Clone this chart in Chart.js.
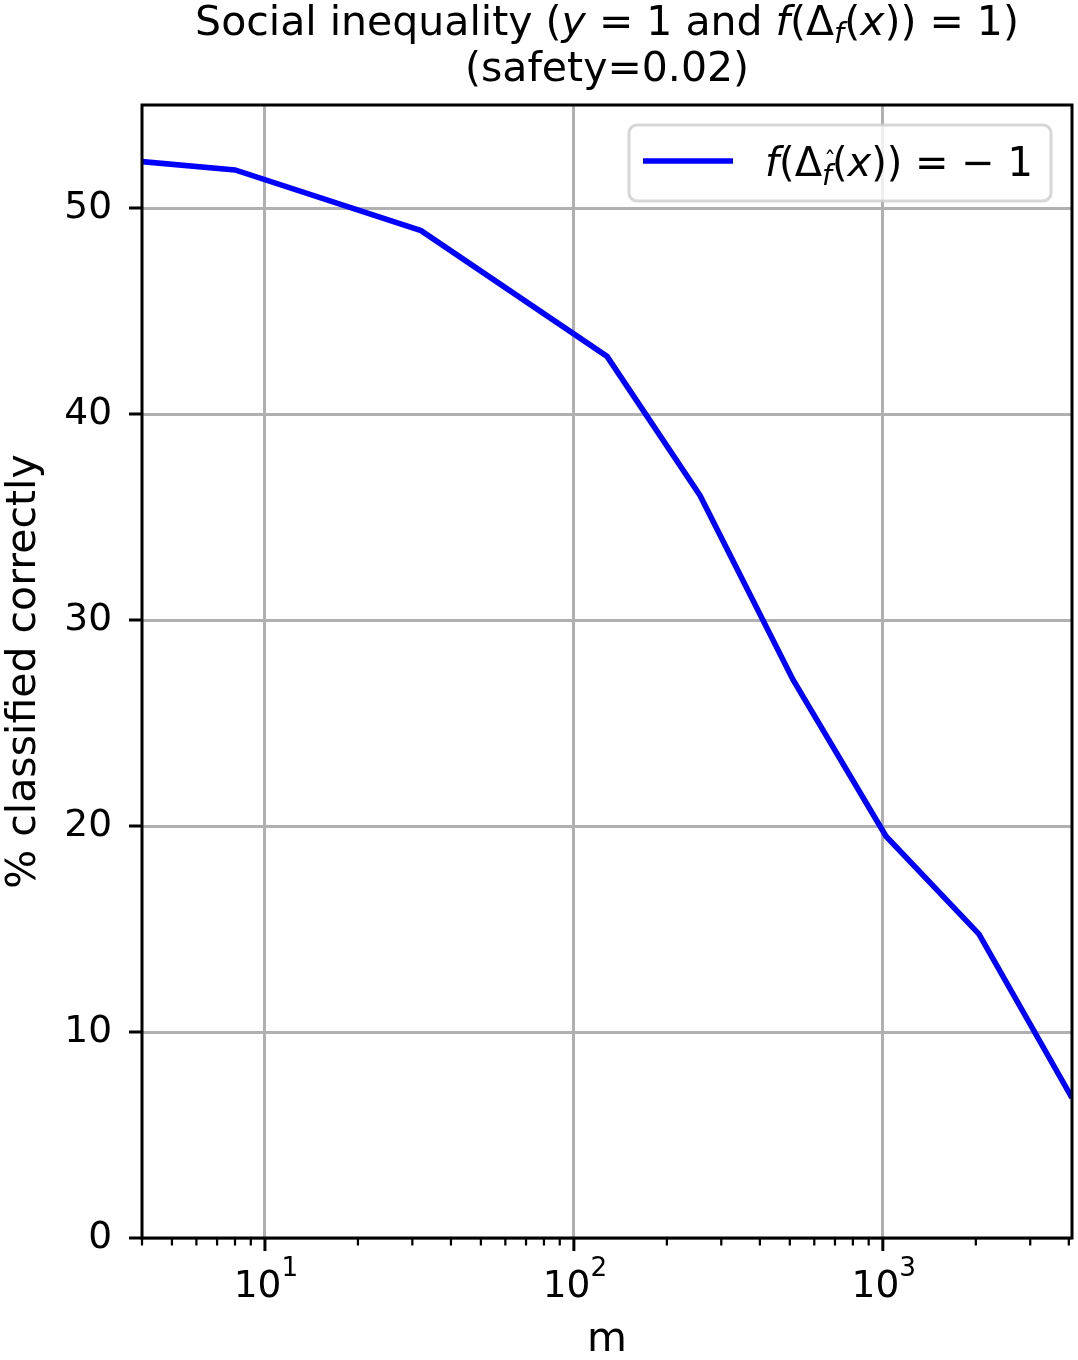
<!DOCTYPE html>
<html><head><meta charset="utf-8">
<script src="https://cdn.jsdelivr.net/npm/chart.js@4/dist/chart.umd.min.js"></script>
<style>html,body{margin:0;padding:0;background:#fff}canvas{display:block}</style>
</head><body>
<canvas id="c" width="1078" height="1360"></canvas>
<script>
// ---- data ----
const mValues = [4, 8, 32, 128, 256, 512, 1024, 2048, 4096];
const pctCorrect = [52.25, 51.85, 48.9, 42.8, 36.05, 27.1, 19.5, 14.75, 6.8];
const yTicks = [0, 10, 20, 30, 40, 50];
const xMajorTicks = [10, 100, 1000];
const xTickBase = '10';
const xTickExponents = ['1', '2', '3'];
const xMinorTicks = [4,5,6,7,8,9,20,30,40,50,60,70,80,90,200,300,400,500,600,700,800,900,2000,3000,4000];
const titleLine2 = '(safety=0.02)';
const yAxisLabel = '% classified correctly';
const xAxisLabel = 'm';

const FAM = '"DejaVu Sans"';
const FS = 37.5;   // tick labels
const LS = 41;     // axis labels, title
const LG = 40;     // legend

function FSz(s) { return s.size * (s.scale || 1); }
function setF(ctx, s) { ctx.font = (s.it ? 'oblique ' : '') + FSz(s) + 'px ' + FAM; }
function drawRich(ctx, segs, x, y, align) {
  let w = 0;
  const widths = segs.map(s => { setF(ctx, s); const mw = ctx.measureText(s.t).width; w += mw; return mw; });
  let cx = align === 'center' ? x - w / 2 : x;
  ctx.textAlign = 'left';
  segs.forEach((s, i) => {
    setF(ctx, s);
    ctx.fillText(s.t, cx, y + (s.dy || 0));
    if (s.hat) {
      ctx.font = (FSz(s) * 0.85) + 'px ' + FAM;
      ctx.fillText('\u02C6', cx + widths[i] * 0.2, y + (s.dy || 0) - FSz(s) * 0.6);
    }
    cx += widths[i];
  });
}

const decor = {
  id: 'decor',
  afterDatasetsDraw(chart) {
    const ctx = chart.ctx;
    const a = chart.chartArea;
    const xs = chart.scales.x, ys = chart.scales.y;
    ctx.save();
    ctx.textBaseline = 'alphabetic';
    // legend box
    const bx = a.right - 21, by = a.top + 20;
    const lx = 629, ly = by, lw = bx - lx, lh = 76, r = 8;
    ctx.fillStyle = 'rgba(255,255,255,0.8)';
    ctx.strokeStyle = 'rgba(204,204,204,0.8)';
    ctx.lineWidth = 3;
    ctx.beginPath();
    ctx.roundRect(lx, ly, lw, lh, r);
    ctx.fill(); ctx.stroke();
    ctx.strokeStyle = '#0000ff';
    ctx.lineWidth = 5.6;
    ctx.beginPath(); ctx.moveTo(643, ly + 36); ctx.lineTo(733, ly + 36); ctx.stroke();
    ctx.fillStyle = '#000';
    drawRich(ctx, [
      {t:'f', it:true, size:LG},
      {t:'(\u0394', size:LG},
      {t:'f', it:true, size:LG, scale:0.7, dy:9, hat:true},
      {t:'(', size:LG},
      {t:'x', it:true, size:LG},
      {t:')) = \u2212 1', size:LG}
    ], 765, ly + 51, 'left');

    // spines
    ctx.strokeStyle = '#000';
    ctx.lineWidth = 3;
    ctx.strokeRect(a.left, a.top, a.right - a.left, a.bottom - a.top);
    yTicks.forEach(v => {
      const p = ys.getPixelForValue(v);
      ctx.beginPath(); ctx.moveTo(a.left - 13, p); ctx.lineTo(a.left, p); ctx.stroke();
    });
    xMajorTicks.forEach(v => {
      const p = xs.getPixelForValue(v);
      ctx.beginPath(); ctx.moveTo(p, a.bottom); ctx.lineTo(p, a.bottom + 13); ctx.stroke();
    });
    ctx.lineWidth = 2.25;
    xMinorTicks.forEach(v => {
      const p = xs.getPixelForValue(v);
      ctx.beginPath(); ctx.moveTo(p, a.bottom); ctx.lineTo(p, a.bottom + 7.5); ctx.stroke();
    });

    // x tick labels (10^k)
    ctx.fillStyle = '#000';
    xMajorTicks.forEach((v, i) => {
      const p = xs.getPixelForValue(v);
      drawRich(ctx, [
        {t: xTickBase, size: FS},
        {t: xTickExponents[i], size: FS, scale: 0.7, dy: -21}
      ], p + 1, a.bottom + 59, 'center');
    });

    // titles
    const cx = (a.left + a.right) / 2;
    drawRich(ctx, [
      {t:'Social inequality (', size:LS},
      {t:'y', it:true, size:LS},
      {t:' = 1 and ', size:LS},
      {t:'f', it:true, size:LS},
      {t:'(\u0394', size:LS},
      {t:'f', it:true, size:LS, scale:0.7, dy:8},
      {t:'(', size:LS},
      {t:'x', it:true, size:LS},
      {t:')) = 1)', size:LS}
    ], cx, 35, 'center');
    ctx.font = LS + 'px ' + FAM;
    ctx.textAlign = 'center';
    ctx.fillText(titleLine2, cx, 81);

    // axis labels
    ctx.fillText(xAxisLabel, cx, 1351);
    ctx.save();
    ctx.translate(35, (a.top + a.bottom) / 2);
    ctx.rotate(-Math.PI / 2);
    ctx.fillText(yAxisLabel, 0, 0);
    ctx.restore();
    ctx.restore();
  }
};

new Chart(document.getElementById('c'), {
  type: 'line',
  data: {
    datasets: [{
      data: mValues.map((m, i) => ({x: m, y: pctCorrect[i]})),
      borderColor: '#0000ff',
      borderWidth: 5.6,
      pointRadius: 0,
      tension: 0,
      fill: false
    }]
  },
  options: {
    responsive: false,
    devicePixelRatio: 1,
    animation: false,
    layout: {padding: {top: 105, right: 6, left: 0, bottom: 0}},
    plugins: {legend: {display: false}, title: {display: false}, tooltip: {enabled: false}},
    scales: {
      x: {
        type: 'logarithmic', min: 4, max: 4096,
        afterBuildTicks: s => { s.ticks = xMajorTicks.map(v => ({value: v})); },
        afterFit: s => { s.height = 122; },
        ticks: {display: false},
        grid: {color: '#b0b0b0', lineWidth: 3, drawTicks: false},
        border: {display: false}
      },
      y: {
        min: 0, max: 55,
        afterBuildTicks: s => { s.ticks = yTicks.map(v => ({value: v})); },
        afterFit: s => { s.width = 142; },
        ticks: {
          color: '#000', padding: 30,
          font: {family: 'DejaVu Sans', size: FS},
          callback: v => String(v)
        },
        grid: {color: '#b0b0b0', lineWidth: 3, drawTicks: false},
        border: {display: false}
      }
    }
  },
  plugins: [decor]
});
</script>
</body></html>
